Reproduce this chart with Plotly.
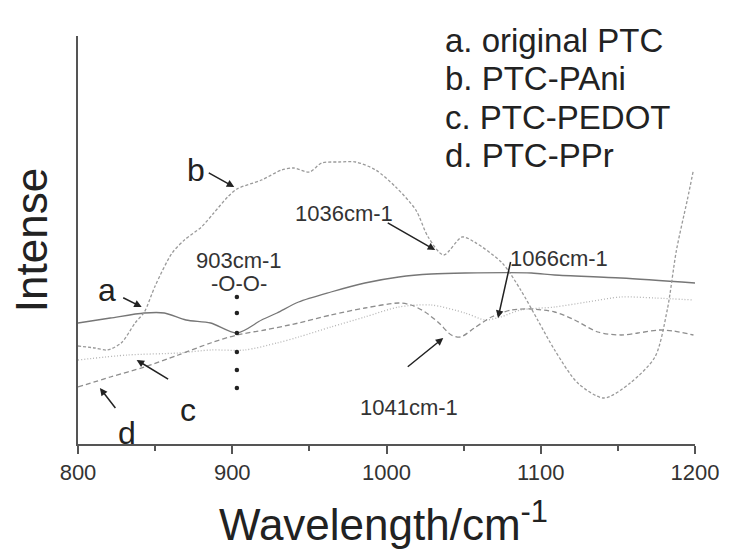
import plotly.graph_objects as go

# ---- data ----
x_ticks = [800, 900, 1000, 1100, 1200]
x_minor = [850, 950, 1050, 1150]

a_x = [800, 821, 843, 856, 870, 886, 903, 919, 929, 943, 964, 986, 1008, 1029, 1051, 1094, 1109, 1152, 1200]
a_y = [121, 126, 131, 131, 124, 121, 111, 124, 131, 142, 152, 161, 167, 170, 171, 171, 169, 166, 161]

b_x = [800, 811, 819, 828, 837, 843, 850, 861, 869, 880, 888, 897, 903, 919, 932, 940, 950, 958,
       969, 980, 993, 1006, 1019, 1027, 1037, 1049, 1057, 1075, 1087, 1098, 1109, 1124, 1141,
       1158, 1174, 1182, 1188, 1195, 1199]
b_y = [98, 96, 94, 101, 121, 132, 158, 191, 204, 217, 231, 247, 255, 264, 274, 276, 272, 281,
       282, 282, 274, 257, 234, 207, 189, 207, 202, 181, 154, 124, 94, 61, 46,
       61, 87, 134, 194, 244, 274]

c_x = [800, 832, 865, 886, 908, 929, 943, 964, 986, 1008, 1029, 1051, 1064, 1074, 1087, 1109, 1130, 1152, 1174, 1199]
c_y = [84, 89, 91, 94, 94, 101, 107, 117, 127, 137, 139, 131, 124, 127, 134, 137, 142, 147, 146, 144]

d_x = [800, 821, 843, 865, 886, 903, 921, 937, 943, 964, 986, 1008, 1016, 1025, 1034, 1042, 1048,
       1057, 1068, 1081, 1094, 1109, 1122, 1137, 1152, 1163, 1177, 1186, 1199]
d_y = [57, 67, 77, 89, 101, 109, 114, 119, 121, 129, 136, 141, 139, 132, 121, 109, 107,
       116, 127, 134, 135, 132, 124, 112, 109, 111, 114, 113, 109]

oo_x = 903
oo_dots_y = [147, 131, 111, 92, 74, 56]

legend_lines = ["a. original PTC", "b. PTC-PAni", "c. PTC-PEDOT", "d. PTC-PPr"]

FONT = "Arial, Liberation Sans, sans-serif"

fig = go.Figure()
fig.add_trace(go.Scatter(x=a_x, y=a_y, mode="lines",
                         line=dict(color="#767676", width=1.3, shape="spline", smoothing=0.8)))
fig.add_trace(go.Scatter(x=b_x, y=b_y, mode="lines",
                         line=dict(color="#9a9a9a", width=1.3, dash="3px,2px", shape="spline", smoothing=0.8)))
fig.add_trace(go.Scatter(x=c_x, y=c_y, mode="lines",
                         line=dict(color="#b5b5b5", width=1.3, dash="1px,2px", shape="spline", smoothing=0.8)))
fig.add_trace(go.Scatter(x=d_x, y=d_y, mode="lines",
                         line=dict(color="#8e8e8e", width=1.3, dash="5px,3px", shape="spline", smoothing=0.8)))
fig.add_trace(go.Scatter(x=[oo_x] * len(oo_dots_y), y=oo_dots_y, mode="markers",
                         marker=dict(color="#222", size=4.5, symbol="circle")))

ann = []
# legend block
for i, t in enumerate(legend_lines):
    ann.append(dict(x=1036.8, y=404 - 38.5 * i, xref="x", yref="y", text=t, showarrow=False,
                    xanchor="left", yanchor="middle", font=dict(family=FONT, size=33, color="#222")))

# letter labels
for t, x, y in [("b", 876.8, 274), ("a", 818.7, 154), ("c", 871, 34), ("d", 831.6, 11)]:
    ann.append(dict(x=x, y=y, text=t, showarrow=False, xanchor="center", yanchor="middle",
                    font=dict(family=FONT, size=32, color="#222")))

# peak labels
for t, x, y in [("903cm-1", 904.5, 184), ("-O-O-", 904.5, 161), ("1036cm-1", 972.3, 231),
                ("1066cm-1", 1111.6, 186), ("1041cm-1", 1014.8, 37)]:
    ann.append(dict(x=x, y=y, text=t, showarrow=False, xanchor="center", yanchor="middle",
                    font=dict(family=FONT, size=22, color="#333")))

# arrows (head at data point, tail offset in pixels)
for x, y, ax, ay in [(901.3, 257, -27, -15), (841.3, 137, -20, -10), (838, 84, 33, 20),
                     (814.2, 56, 17, 22), (1031.6, 194, -49, -28), (1072.3, 126, 13, -58),
                     (1036.8, 106, -37, 30)]:
    ann.append(dict(x=x, y=y, ax=ax, ay=ay, text=" ", showarrow=True, arrowhead=2,
                    arrowsize=1, arrowwidth=1.5, arrowcolor="#222", font=dict(size=1)))

# axis titles
ann.append(dict(x=-0.0758, y=0.5, xref="paper", yref="paper", text="Intense", textangle=-90,
                showarrow=False, xanchor="center", yanchor="middle",
                font=dict(family=FONT, size=44, color="#222")))
ann.append(dict(x=0.495, y=-0.19, xref="paper", yref="paper", text="Wavelength/cm<sup>-1</sup>",
                showarrow=False, xanchor="center", yanchor="middle",
                font=dict(family=FONT, size=44, color="#222")))

# the page body adds an 8px offset, so the figure is 8px smaller and margins shifted
fig.update_layout(
    width=723, height=546,
    margin=dict(l=70, r=33, t=28, b=110),
    plot_bgcolor="white", paper_bgcolor="white",
    showlegend=False,
    annotations=ann,
    xaxis=dict(range=[800, 1200], tickvals=x_ticks, ticks="outside", ticklen=8, tickwidth=1.5,
               tickcolor="#555", showline=True, linewidth=2, linecolor="#555",
               showgrid=False, zeroline=False,
               tickfont=dict(family=FONT, size=22, color="#333"),
               minor=dict(tickvals=x_minor, ticks="outside", ticklen=5, tickwidth=1.5, tickcolor="#555")),
    yaxis=dict(range=[0, 408], showline=True, linewidth=2, linecolor="#555",
               showticklabels=False, ticks="", showgrid=False, zeroline=False),
)

fig.write_html("out.html")
